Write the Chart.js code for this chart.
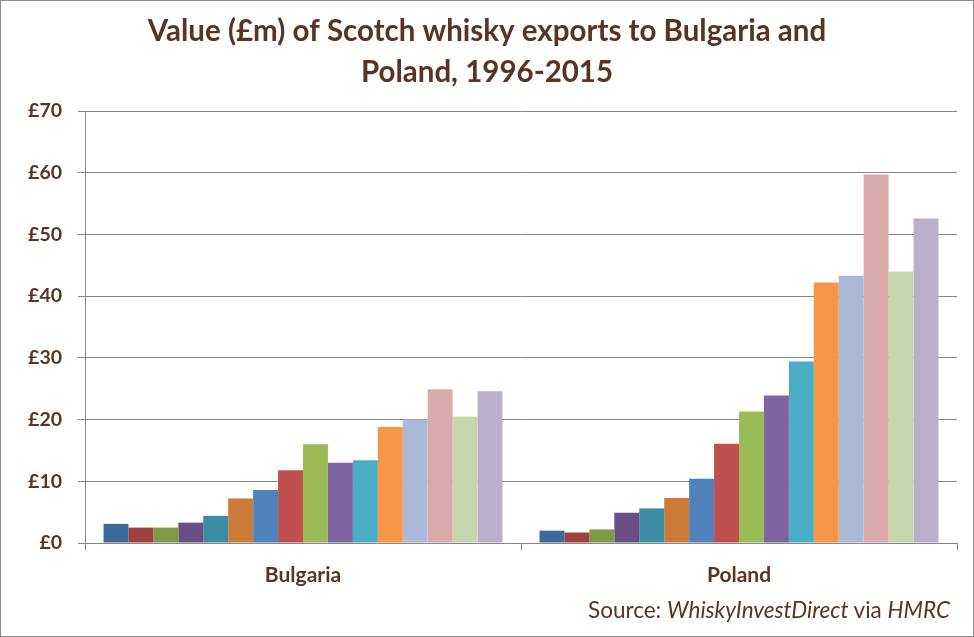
<!DOCTYPE html>
<html>
<head>
<meta charset="utf-8">
<script src="https://cdn.jsdelivr.net/npm/chart.js@4"></script>
<style>
  html, body { margin: 0; padding: 0; background: #fff; }
  #wrap { position: relative; width: 974px; height: 637px; box-sizing: border-box; border: 1px solid #8a8a8a; background: #fff; }
  #c { display: block; }
  #source { position: absolute; right: 23px; top: 595px; font-family: Lato, "Open Sans", sans-serif; font-size: 22.5px; line-height: 27px; color: #5a3422; white-space: nowrap; }
</style>
</head>
<body>
<div id="wrap">
  <canvas id="c" width="972" height="635"></canvas>
  <div id="source">Source: <i>WhiskyInvestDirect</i> via <i>HMRC</i></div>
</div>
<script>
const categories = ["Bulgaria", "Poland"];
const years = ["2000","2001","2002","2003","2004","2005","2006","2007","2008","2009","2010","2011","2012","2013","2014","2015"];
const bulgaria = [3.1, 2.5, 2.5, 3.3, 4.4, 7.2, 8.6, 11.8, 16.0, 13.0, 13.4, 18.8, 20.0, 24.9, 20.5, 24.6];
const poland   = [2.0, 1.7, 2.2, 4.9, 5.6, 7.3, 10.4, 16.1, 21.3, 23.9, 29.4, 42.2, 43.3, 59.7, 44.0, 52.6];
const yTicks = [0, 10, 20, 30, 40, 50, 60, 70];
const titleLines = ["Value (£m) of Scotch whisky exports to Bulgaria and", "Poland, 1996-2015"];

const colors = ["#3e6a9a","#9e413e","#7f9a48","#694f86","#3b8ca3","#cb7b37",
                "#4f81bd","#c0504d","#9bbb59","#8064a2","#4bacc6","#f79646",
                "#aab9d7","#d9aaaa","#c7d6ae","#b9afca"];

const textColor = "#5a3422";
const gridColor = "#878787";

const datasets = years.map((y, i) => ({
  label: y,
  data: [bulgaria[i], poland[i]],
  backgroundColor: colors[i],
  borderWidth: 0,
  categoryPercentage: 0.915,
  barPercentage: 1.0
}));

new Chart(document.getElementById("c"), {
  type: "bar",
  data: { labels: categories, datasets },
  options: {
    responsive: false,
    animation: false,
    layout: { padding: 0 },
    plugins: {
      legend: { display: false },
      tooltip: { enabled: false },
      title: {
        display: true,
        text: titleLines,
        color: textColor,
        font: { family: "Lato, 'Open Sans', sans-serif", size: 29.5, weight: "bold", lineHeight: 1.39 },
        padding: { top: 10, bottom: 18 }
      }
    },
    scales: {
      x: {
        grid: { display: true, drawOnChartArea: false, drawTicks: true, tickLength: 7, offset: true, color: gridColor, lineWidth: 1 },
        border: { display: true, color: gridColor, width: 1 },
        ticks: { color: textColor, font: { family: "Lato, 'Open Sans', sans-serif", size: 21, weight: "bold" }, padding: 13 },
        afterFit: (s) => { s.height = 93; }
      },
      y: {
        min: 0, max: 70,
        afterBuildTicks: (s) => { s.ticks = yTicks.map(v => ({ value: v })); },
        grid: { color: gridColor, lineWidth: 1, drawTicks: true, tickLength: 7 },
        border: { display: true, color: gridColor, width: 1 },
        ticks: {
          color: textColor,
          font: { family: "Lato, 'Open Sans', sans-serif", size: 19.5, weight: "bold" },
          padding: 16,
          callback: (v) => "£" + v
        },
        afterFit: (s) => { s.width = 84; }
      },
      yRight: {
        position: "right",
        min: 0, max: 70,
        grid: { display: false },
        border: { display: false },
        ticks: { display: false },
        afterFit: (s) => { s.width = 16; }
      }
    }
  }
});
</script>
</body>
</html>
